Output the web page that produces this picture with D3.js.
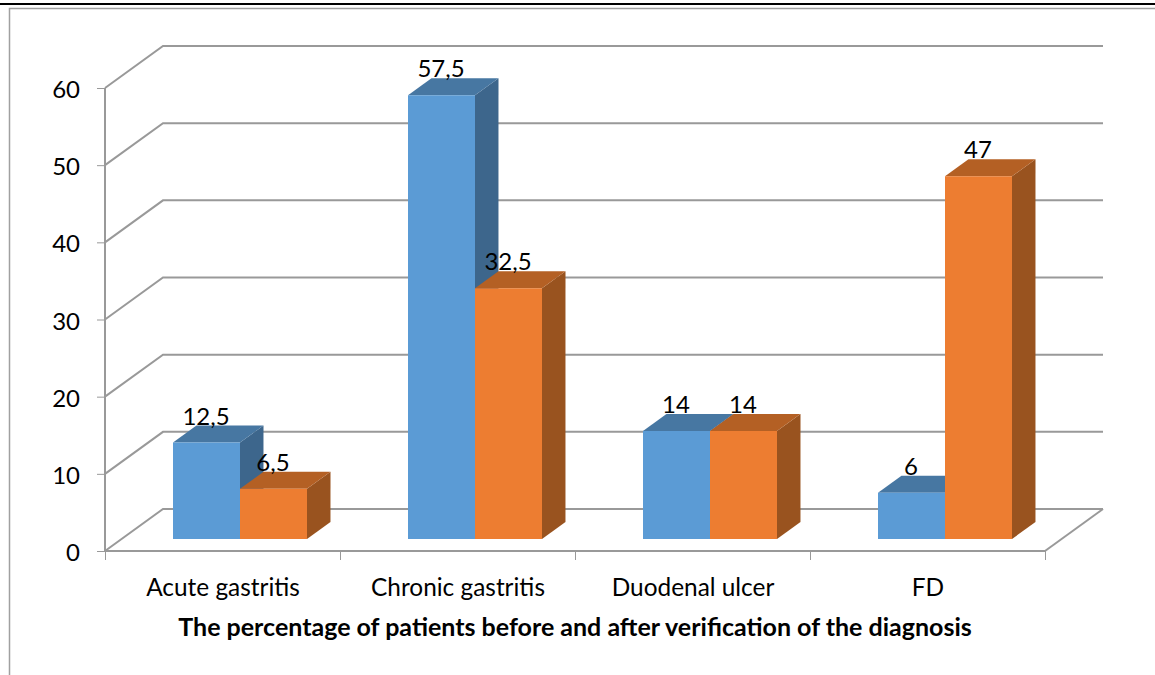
<!DOCTYPE html>
<html lang="en">
<head>
  <meta charset="UTF-8">
  <title>The percentage of patients before and after verification of the diagnosis</title>
  <style>
    html, body { margin: 0; padding: 0; background: #fff; overflow: hidden; }
    svg { display: block; }
    text { font-family: Lato, "Open Sans", sans-serif; fill: #000; }
  </style>
  <script src="https://d3js.org/d3.v7.min.js"></script>
</head>
<body>
  <div id="chart"></div>
  <script>
    const categories = ["Acute gastritis", "Chronic gastritis", "Duodenal ulcer", "FD"];
    const seriesNames = ["Before", "After"];
    const before = [12.5, 57.5, 14, 6];
    const after = [6.5, 32.5, 14, 47];
    const yTicks = [0, 10, 20, 30, 40, 50, 60];
    const xTitle = "The percentage of patients before and after verification of the diagnosis";

    const width = 1155, height = 675;
    const svg = d3.select("#chart").append("svg")
      .attr("width", width)
      .attr("height", height);

    // page rules and chart frame
    svg.append("rect").attr("x", 0).attr("y", 3).attr("width", width).attr("height", 2).attr("fill", "#000");
    svg.append("path")
      .attr("d", "M9.5,675V8.5H1155")
      .attr("fill", "none")
      .attr("stroke", "#a0a0a0")
      .attr("stroke-width", 1.5);

    const x0 = d3.scaleBand().domain(categories).range([105, 1045]);
    const x1 = d3.scaleBand().domain(seriesNames).range([68, 202]);
    const y = d3.scaleLinear().domain([0, 60]).range([551, 88]);

    // oblique depth of the floor
    const depthX = 58, depthY = -42;
    const barFront = 12 / 42, barBack = 29 / 42;

    const grid = svg.append("g").attr("fill", "none").attr("stroke", "#999").attr("stroke-width", 2);
    yTicks.forEach(t => {
      grid.append("path")
        .attr("d", d3.line()([
          [105, y(t)],
          [105 + depthX, y(t) + depthY],
          [1045 + depthX, y(t) + depthY]
        ]));
    });
    grid.append("path").attr("d", d3.line()([
      [1045, y(0)], [1045 + depthX, y(0) + depthY]
    ]));

    // front axis lines
    grid.append("line").attr("x1", 105).attr("x2", 105).attr("y1", y(60)).attr("y2", y(0));
    grid.append("line").attr("x1", 105).attr("x2", 1045).attr("y1", y(0)).attr("y2", y(0));

    const ticks = svg.append("g").attr("stroke", "#999").attr("stroke-width", 1);
    yTicks.forEach(t => {
      ticks.append("line").attr("x1", 97).attr("x2", 105).attr("y1", y(t) + 0.5).attr("y2", y(t) + 0.5);
    });
    [105, ...categories.slice(1).map(c => x0(c)), 1045].forEach(p => {
      ticks.append("line").attr("x1", p + 0.5).attr("x2", p + 0.5).attr("y1", y(0)).attr("y2", y(0) + 9);
    });

    svg.append("g").selectAll("text").data(yTicks).enter().append("text")
      .attr("x", 80)
      .attr("y", d => y(d) + 10)
      .attr("text-anchor", "end")
      .style("font-size", "24px")
      .text(d => d);

    svg.append("g").selectAll("text").data(categories).enter().append("text")
      .attr("x", d => x0(d) + x0.bandwidth() / 2 + 0.5)
      .attr("y", 596)
      .attr("text-anchor", "middle")
      .style("font-size", "24.4px")
      .text(d => d);

    svg.append("text")
      .attr("x", 575)
      .attr("y", 636)
      .attr("text-anchor", "middle")
      .style("font-size", "25px")
      .style("font-weight", "bold")
      .text(xTitle);

    const colors = {
      Before: {front: "#5b9bd5", top: "#4777a2", side: "#3d668c"},
      After: {front: "#ed7d31", top: "#b46024", side: "#99531f"}
    };
    const values = {Before: before, After: after};

    // one box: side, top, front
    function drawBar(g, cat, name, i) {
      const v = values[name][i];
      const left = x0(cat) + x1(name);
      const right = left + x1.bandwidth();
      const base = y(0) + depthY * barFront;
      const top = base - (y(0) - y(v));
      const dx = depthX * (barBack - barFront), dy = depthY * (barBack - barFront);
      const c = colors[name];
      const poly = (pts, fill) => g.append("polygon")
        .attr("points", pts.map(p => p.join(",")).join(" "))
        .attr("fill", fill);
      poly([[right, base], [right + dx, base + dy], [right + dx, top + dy], [right, top]], c.side);
      poly([[left, top], [left + dx, top + dy], [right + dx, top + dy], [right, top]], c.top);
      poly([[left, base], [right, base], [right, top], [left, top]], c.front);
      g.append("text")
        .attr("x", left + 33)
        .attr("y", top - 18)
        .attr("text-anchor", "middle")
        .style("font-size", "24px")
        .text(String(v).replace(".", ","));
    }

    const bars = svg.append("g");
    categories.forEach((cat, i) => {
      seriesNames.forEach(name => drawBar(bars, cat, name, i));
    });
  </script>
</body>
</html>
